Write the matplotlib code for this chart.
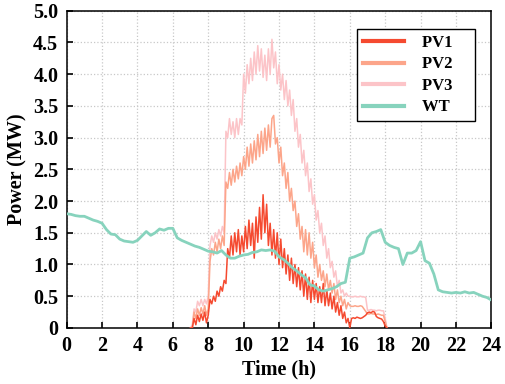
import numpy as np
import matplotlib
matplotlib.use('Agg')
import matplotlib.pyplot as plt
from matplotlib.lines import Line2D

# time axes (hours)
t_pv = np.round(np.arange(7.0, 18.15, 0.1), 2)
t_wt = np.arange(0, 24.01, 0.25)

pv1 = [0.0, 0.0, 0.15, 0.05, 0.2, 0.1, 0.22, 0.12, 0.25, 0.08,
       0.2, 0.45, 0.38, 0.5, 0.42, 0.58, 0.5, 0.65, 0.58, 0.75,
       0.7, 1.25, 1.1, 1.45, 1.15, 1.5, 1.2, 1.55, 1.15, 1.45,
       1.2, 1.6, 1.25, 1.7, 1.3, 1.65, 1.1, 1.75, 1.35, 1.9,
       1.4, 2.1, 1.5, 1.95, 1.3, 1.65, 1.15, 1.55, 1.1, 1.5,
       1.0, 1.4, 0.95, 1.25, 0.85, 1.15, 0.75, 1.1, 0.7, 1.0,
       0.65, 0.95, 0.6, 0.9, 0.5, 0.85, 0.45, 0.8, 0.4, 0.75,
       0.45, 0.7, 0.4, 0.65, 0.4, 0.7, 0.35, 0.6, 0.35, 0.55,
       0.3, 0.5, 0.25, 0.4, 0.2, 0.35, 0.15, 0.25, 0.08, 0.15,
       0.0, 0.15, 0.16, 0.15, 0.17, 0.16, 0.15, 0.16, 0.18, 0.2,
       0.24, 0.25, 0.24, 0.26, 0.25, 0.18, 0.16, 0.15, 0.14, 0.1,
       0.03, 0.0]

pv2 = [0.0, 0.0, 0.25, 0.15, 0.3, 0.2, 0.32, 0.22, 0.35, 0.2,
       0.3, 1.05, 1.25, 1.15, 1.35, 1.2, 1.4, 1.25, 1.45, 1.3,
       2.3, 2.2, 2.45, 2.25, 2.5, 2.3, 2.55, 2.35, 2.6, 2.4,
       2.7, 2.5, 2.85, 2.55, 2.9, 2.6, 2.95, 2.65, 3.05, 2.7,
       3.1, 2.75, 3.15, 2.8, 3.2, 2.85, 3.3, 3.35, 2.9, 3.0,
       2.6, 2.85, 2.4, 2.6, 2.2, 2.45, 2.0, 2.2, 1.85, 2.0,
       1.6, 1.8, 1.4, 1.6, 1.2, 1.55, 1.15, 1.5, 1.1, 1.35,
       0.95, 1.15, 0.8, 1.0, 0.75, 0.9, 0.65, 0.85, 0.6, 0.75,
       0.55, 0.7, 0.45, 0.6, 0.4, 0.5, 0.35, 0.45, 0.3, 0.4,
       0.35, 0.34, 0.34, 0.35, 0.34, 0.34, 0.35, 0.34, 0.3, 0.26,
       0.22, 0.22, 0.23, 0.22, 0.22, 0.21, 0.22, 0.21, 0.2, 0.2,
       0.1, 0.0]

pv3 = [0.0, 0.05, 0.3, 0.25, 0.42, 0.35, 0.45, 0.35, 0.45, 0.38,
       0.5, 1.3, 1.45, 1.35, 1.5, 1.4, 1.55, 1.45, 1.6, 1.5,
       3.1, 3.0, 3.3, 3.05, 3.25, 3.0, 3.3, 3.05, 3.3, 3.2,
       4.0, 3.7, 4.15, 3.85, 4.25, 3.9, 4.35, 4.0, 4.45, 4.05,
       4.4, 3.95, 4.3, 3.9, 4.4, 4.0, 4.55, 4.1, 4.35, 3.85,
       4.15, 3.75, 4.0, 3.6, 3.9, 3.5, 3.75, 3.35, 3.6, 3.1,
       3.3, 2.85, 3.05, 2.6, 2.8, 2.4, 2.6, 2.15, 2.35, 1.95,
       2.1, 1.7, 1.85, 1.5, 1.65, 1.3, 1.45, 1.1, 1.25, 0.95,
       1.05, 0.8, 0.9, 0.65, 0.75, 0.55, 0.6, 0.5, 0.55, 0.5,
       0.5, 0.49, 0.49, 0.5, 0.49, 0.49, 0.5, 0.49, 0.49, 0.48,
       0.28, 0.28, 0.29, 0.28, 0.28, 0.27, 0.28, 0.28, 0.27, 0.27,
       0.15, 0.0]

wt = [1.80, 1.79, 1.77, 1.76, 1.76, 1.73, 1.70, 1.68, 1.65, 1.55,
      1.48, 1.47, 1.40, 1.37, 1.36, 1.35, 1.38, 1.45, 1.52, 1.46,
      1.50, 1.56, 1.54, 1.57, 1.57, 1.42, 1.38, 1.35, 1.32, 1.29,
      1.27, 1.24, 1.21, 1.20, 1.18, 1.22, 1.15, 1.10, 1.10, 1.13,
      1.15, 1.16, 1.19, 1.20, 1.23, 1.22, 1.23, 1.21, 1.12, 1.08,
      1.02, 0.95, 0.90, 0.84, 0.79, 0.68, 0.66, 0.60, 0.58, 0.60,
      0.62, 0.65, 0.70, 0.72, 1.10, 1.12, 1.15, 1.18, 1.42, 1.50,
      1.52, 1.55, 1.35, 1.30, 1.27, 1.25, 1.00, 1.18, 1.18, 1.22,
      1.36, 1.06, 1.02, 0.85, 0.60, 0.57, 0.56, 0.55, 0.56, 0.55,
      0.57, 0.55, 0.56, 0.53, 0.50, 0.48, 0.44]

labels = ['PV1', 'PV2', 'PV3', 'WT']
colors = ['#f54a30', '#fca58a', '#fcc4c8', '#87d3bd']

x_ticks = np.arange(0, 25, 2)
y_ticks = np.arange(0, 5.01, 0.5)
y_tick_labels = ['0'] + ['%.1f' % v for v in y_ticks[1:]]

plt.rcParams['font.family'] = 'Liberation Serif'
plt.rcParams['font.weight'] = 'bold'

fig = plt.figure(figsize=(5.05, 3.84), dpi=100)
ax = fig.add_axes([0.132, 0.146, 0.841, 0.826])

# draw back to front, legend keeps PV1..WT order
ax.plot(t_pv, pv3, color=colors[2], lw=1.1, zorder=2)
ax.plot(t_pv, pv2, color=colors[1], lw=1.1, zorder=3)
ax.plot(t_pv, pv1, color=colors[0], lw=1.1, zorder=4)
ax.plot(t_wt, wt, color=colors[3], lw=2.0, zorder=5)

ax.set_xlim(0, 24)
ax.set_ylim(0, 5)
ax.set_xticks(x_ticks)
ax.set_yticks(y_ticks)
ax.set_yticklabels(y_tick_labels)
ax.tick_params(direction='in', length=4, width=1.2, labelsize=14.5, pad=6)
ax.grid(True, linestyle=':', color='#c8c8c8', lw=0.9, zorder=0)
for s in ax.spines.values():
    s.set_linewidth(1.1)

ax.set_xlabel('Time (h)', fontsize=14.5, fontweight='bold', labelpad=2)
ax.set_ylabel('Power (MW)', fontsize=14.5, fontweight='bold', labelpad=4)

# trailing en spaces widen the box on the right like the original
handles = [Line2D([], [], color=c, lw=3) for c in colors]
leg = ax.legend(handles, [l + '\u2002\u2002' for l in labels], loc='upper right',
                bbox_to_anchor=(0.962, 0.942), borderaxespad=0,
                fancybox=False, framealpha=1, edgecolor='black',
                prop={'family': 'Liberation Serif', 'weight': 'bold', 'size': 12},
                handlelength=2.45, handletextpad=1.1, labelspacing=0.33,
                borderpad=0.35)
leg.get_frame().set_linewidth(1.0)

fig.savefig('out.png', dpi=100)
